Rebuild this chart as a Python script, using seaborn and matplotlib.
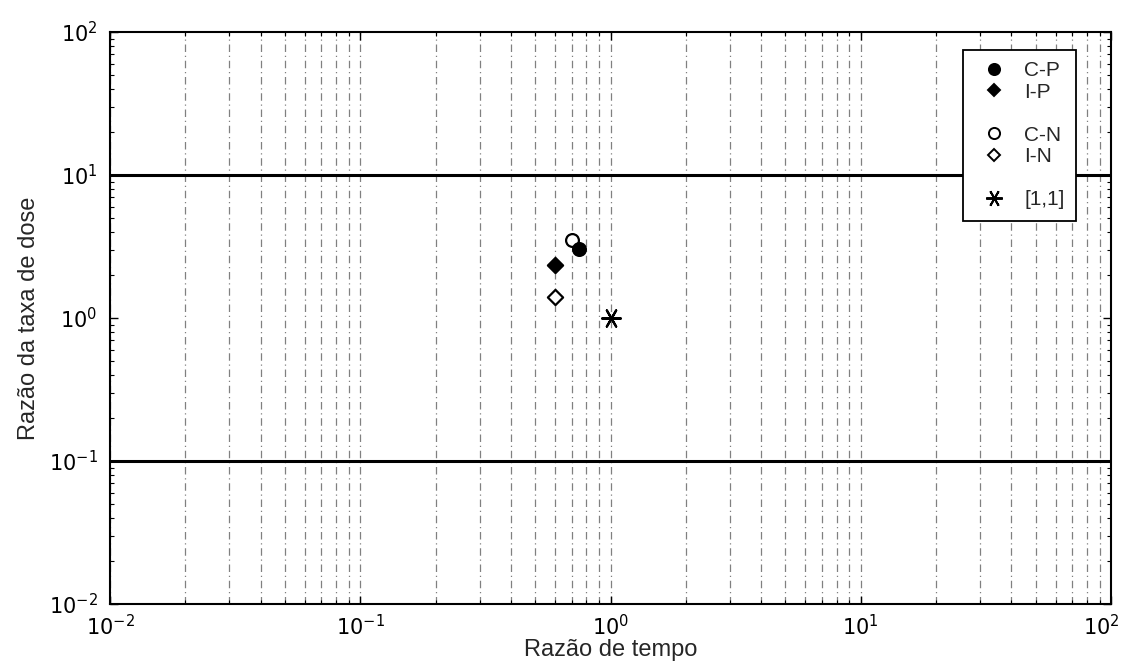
import numpy as np
import pandas as pd
import matplotlib
matplotlib.use("Agg")
import matplotlib.pyplot as plt
import matplotlib.transforms as mtransforms
import seaborn as sns
from matplotlib.lines import Line2D
from matplotlib.ticker import LogLocator, FixedLocator, FixedFormatter, NullFormatter

sns.set_theme(style="white")
plt.rcParams['font.family'] = ['Liberation Sans', 'DejaVu Sans']

# Data
labels = ["C-P", "I-P", "C-N", "I-N", "[1,1]"]
time_ratio = [0.75, 0.60, 0.70, 0.60, 1.0]
dose_ratio = [3.05, 2.35, 3.50, 1.40, 1.0]
limit_lines = [10.0, 0.1]
tick_vals = [1e-2, 1e-1, 1e0, 1e1, 1e2]
tick_labels = ["$10^{-2}$", "$10^{-1}$", "$10^{0}$", "$10^{1}$", "$10^{2}$"]

df = pd.DataFrame({"label": labels, "x": time_ratio, "y": dose_ratio})

fig = plt.figure(figsize=(11.26, 6.66), dpi=100)
ax = fig.add_axes([0.0977, 0.0931, 0.8890, 0.8589])
ax.set_xscale("log")
ax.set_yscale("log")
ax.set_xlim(1e-2, 1e2)
ax.set_ylim(1e-2, 1e2)

# vertical grid lines (major + minor) dash-dot
ax.xaxis.set_minor_locator(LogLocator(base=10, subs=np.arange(2, 10)))
ax.grid(True, which="both", axis="x", linestyle=(0, (6, 3, 1, 3)), color="0.5", linewidth=0.9)
ax.grid(False, axis="y")

for v in limit_lines:
    ax.axhline(v, color="black", linewidth=2.2, zorder=2)

styles = {
    "C-P": dict(marker="o", facecolor="black", s=85),
    "I-P": dict(marker="D", facecolor="black", s=60),
    "C-N": dict(marker="o", facecolor="white", s=85),
    "I-N": dict(marker="D", facecolor="white", s=60),
    "[1,1]": dict(marker=(6, 2, 90), facecolor="black", s=180),
}
plot_order = ["I-N", "I-P", "C-N", "C-P", "[1,1]"]
for lab in plot_order:
    st = styles[lab]
    sub = df[df["label"] == lab]
    sns.scatterplot(data=sub, x="x", y="y", ax=ax, marker=st["marker"], s=st["s"],
                    color=st["facecolor"], edgecolor="black", linewidth=1.6, zorder=5,
                    legend=False)

def mk(lab, size):
    st = styles[lab]
    return Line2D([], [], linestyle="none", marker=st["marker"], markersize=size,
                  markerfacecolor=st["facecolor"], markeredgecolor="black", markeredgewidth=1.4)
blank = Line2D([], [], linestyle="none")
handles = [mk("C-P", 8), mk("I-P", 6), blank, mk("C-N", 8), mk("I-N", 6), blank, mk("[1,1]", 12)]
leg_labels = ["C-P", "I-P", "", "C-N", "I-N", "", "[1,1]"]
leg = ax.legend(handles, leg_labels, loc="upper right", bbox_to_anchor=(0.965, 0.969),
                borderaxespad=0,
                frameon=True, fancybox=False, edgecolor="black", framealpha=1,
                fontsize=15, handletextpad=0.5, labelspacing=0.12, borderpad=0.55,
                handlelength=1.9)
leg.get_frame().set_linewidth(1.3)
leg.set_zorder(10)

ax.xaxis.set_major_locator(FixedLocator(tick_vals))
ax.xaxis.set_major_formatter(FixedFormatter(tick_labels))
ax.yaxis.set_major_locator(FixedLocator(tick_vals))
ax.yaxis.set_major_formatter(FixedFormatter(tick_labels))
ax.xaxis.set_minor_formatter(NullFormatter())
ax.yaxis.set_minor_locator(LogLocator(base=10, subs=np.arange(2, 10)))
ax.yaxis.set_minor_formatter(NullFormatter())
ax.tick_params(which="both", direction="in", top=True, right=True, left=True, bottom=True,
               labelsize=15, colors="black")
ax.tick_params(which="major", length=6, width=1)
ax.tick_params(which="minor", length=3, width=0.8)
ax.tick_params(axis="x", which="major", pad=7)
ax.tick_params(axis="y", which="major", pad=9)

# keep the last x tick label inside the figure
last = ax.get_xticklabels()[-1]
last.set_transform(last.get_transform() + mtransforms.ScaledTranslation(-7 / 72, 0, fig.dpi_scale_trans))

for sp in ax.spines.values():
    sp.set_color("black")
    sp.set_linewidth(1.5)

ax.set_xlabel("Razão de tempo", fontsize=17, labelpad=0)
ax.set_ylabel("Razão da taxa de dose", fontsize=17, labelpad=6)

fig.savefig("out.png", dpi=100)
